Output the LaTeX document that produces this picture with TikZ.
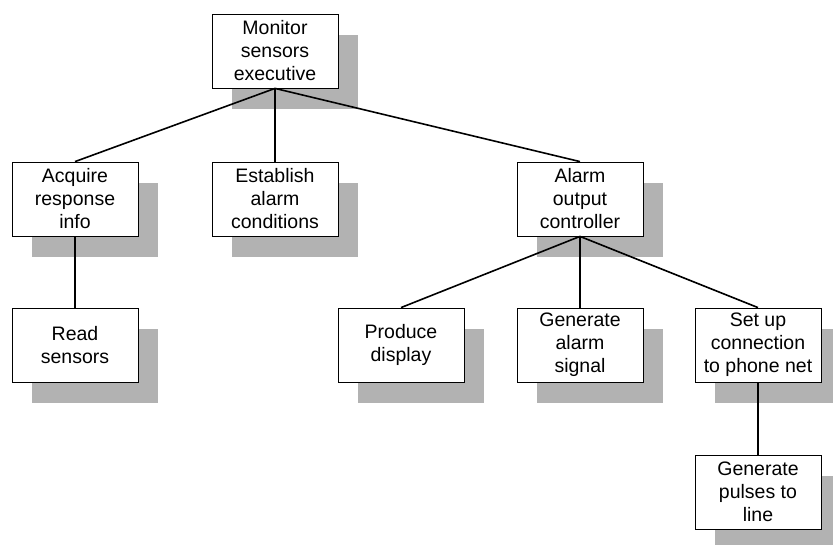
\documentclass[tikz,border=0pt]{standalone}
\usepackage{fontspec}
\setmainfont{Liberation Sans}
\usetikzlibrary{shadows}
\definecolor{shade}{RGB}{178,178,178}
\begin{document}
\begin{tikzpicture}[x=1pt,y=-1pt,
  box/.style={draw=black, line width=0.8pt, fill=white,
    minimum width=126pt, minimum height=74pt, inner sep=0pt,
    align=center, font=\fontsize{19.5}{23}\selectfont,
    general shadow={fill=shade, shadow xshift=20pt, shadow yshift=-21pt}},
  conn/.style={draw=black, line width=1.6pt}]
\useasboundingbox (0,0) rectangle (833,545);

% modules
\node[box] (mon)   at (275,51)  {Monitor\\sensors\\executive};
\node[box] (acq)   at (75,199)  {Acquire\\response\\info};
\node[box] (est)   at (275,199) {Establish\\alarm\\conditions};
\node[box] (alarm) at (580,199) {Alarm\\output\\controller};
\node[box] (read)  at (75,345)  {Read\\sensors};
\node[box] (disp)  at (401,345) {Produce\\display};
\node[box] (gen)   at (580,345) {Generate\\alarm\\signal};
\node[box] (setup) at (758,345) {Set up\\connection\\to phone net};
\node[box] (puls)  at (758,492) {Generate\\pulses to\\line};

% calls
\draw[conn] (mon.south) -- (acq.north);
\draw[conn] (mon.south) -- (est.north);
\draw[conn] (mon.south) -- (alarm.north);
\draw[conn] (acq.south) -- (read.north);
\draw[conn] (alarm.south) -- (disp.north);
\draw[conn] (alarm.south) -- (gen.north);
\draw[conn] (alarm.south) -- (setup.north);
\draw[conn] (setup.south) -- (puls.north);
\end{tikzpicture}
\end{document}
